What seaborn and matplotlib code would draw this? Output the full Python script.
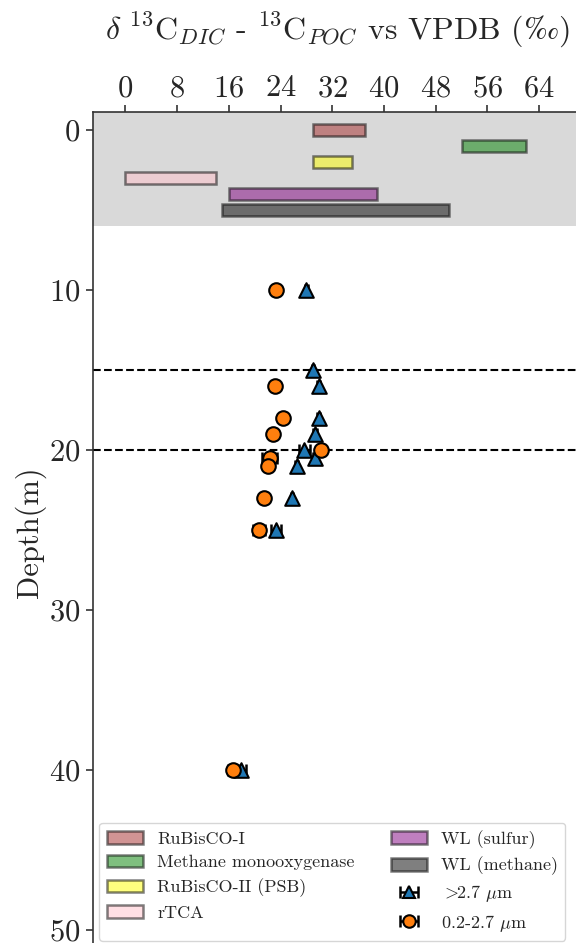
import matplotlib
matplotlib.use("Agg")
import matplotlib.pyplot as plt
from matplotlib.patches import Patch
from matplotlib.lines import Line2D
from matplotlib.container import ErrorbarContainer
from matplotlib.legend_handler import HandlerErrorbar
import seaborn as sns
import pandas as pd

# Pathway ranges of carbon isotope fractionation (permil)
pathways = ["RuBisCO-I", "Methane monooxygenase", "RuBisCO-II (PSB)", "rTCA",
            "WL (sulfur)", "WL (methane)"]
range_lo = [29, 52, 29, 0, 16, 15]
range_hi = [37, 62, 35, 14, 39, 50]
range_row = [0, 1, 2, 3, 4, 5]
range_colors = ["brown", "green", "yellow", "pink", "purple", "black"]

# Measured fractionation by size class
depth_large = [10, 15, 16, 18, 19, 20, 20.5, 21, 23, 25, 40]
frac_large = [28.0, 29.0, 29.9, 29.9, 29.4, 27.7, 29.4, 26.5, 25.8, 23.3, 17.9]
err_large = [0.2, 0.2, 0.2, 0.2, 0.3, 0.9, 0.3, 0.2, 0.2, 0.8, 0.8]

depth_small = [10, 16, 18, 19, 20, 20.5, 21, 23, 25, 40]
frac_small = [23.3, 23.1, 24.4, 22.9, 30.3, 22.3, 22.0, 21.4, 20.7, 16.7]
err_small = [0.2, 0.2, 0.2, 0.2, 0.2, 1.1, 0.3, 0.2, 0.9, 0.8]

boundary_depths = [15, 20]
x_ticks = [0, 8, 16, 24, 32, 40, 48, 56, 64]
y_ticks = [0, 10, 20, 30, 40, 50]

sns.set_style("ticks")
plt.rcParams["font.family"] = ["cmr10", "DejaVu Serif"]
plt.rcParams["mathtext.fontset"] = "cm"
plt.rcParams["axes.formatter.use_mathtext"] = True
plt.rcParams["axes.unicode_minus"] = False

W, H = 576, 943
fig = plt.figure(figsize=(W / 100, H / 100), dpi=100)
ax = fig.add_axes([93 / W, 0.0, 1 - 93 / W, 1 - 112 / H])

ax.axhspan(-2, 6, color="#d9d9d9", zorder=0, lw=0)

handles = []
for name, lo, hi, row, col in zip(pathways, range_lo, range_hi, range_row, range_colors):
    ax.barh(row, hi - lo, left=lo, height=0.8, color=col, alpha=0.5,
            edgecolor="black", linewidth=1.8, zorder=2)
    handles.append(Patch(facecolor=col, alpha=0.5, edgecolor="black",
                         linewidth=1.8, label=name))

for d in boundary_depths:
    ax.axhline(d, color="black", ls="--", lw=1.5, zorder=1)

df_large = pd.DataFrame({"frac": frac_large, "depth": depth_large})
df_small = pd.DataFrame({"frac": frac_small, "depth": depth_small})

eb_l = ax.errorbar(frac_large, depth_large, xerr=err_large, fmt="none",
                   ecolor="black", elinewidth=1.8, capsize=4, capthick=1.8, zorder=3)
eb_s = ax.errorbar(frac_small, depth_small, xerr=err_small, fmt="none",
                   ecolor="black", elinewidth=1.8, capsize=4, capthick=1.8, zorder=3)

sns.scatterplot(data=df_large, x="frac", y="depth", marker="^", s=110,
                color="#1f77b4", edgecolor="black", linewidth=1.5, ax=ax,
                zorder=4, legend=False)
sns.scatterplot(data=df_small, x="frac", y="depth", marker="o", s=110,
                color="#ff7f0e", edgecolor="black", linewidth=1.5, ax=ax,
                zorder=5, legend=False)

mk_l = Line2D([], [], marker="^", ls="none", markersize=9, markerfacecolor="#1f77b4",
              markeredgecolor="black", markeredgewidth=1.5)
mk_s = Line2D([], [], marker="o", ls="none", markersize=9, markerfacecolor="#ff7f0e",
              markeredgecolor="black", markeredgewidth=1.5)

handles.append((eb_l, mk_l))
handles.append((eb_s, mk_s))
labels = pathways + [r"$>\!\!$2.7 $\mu$m", r"0.2-2.7 $\mu$m"]

ax.set_xlim(-5, 69.7)
ax.set_ylim(50.8, -1.125)
ax.set_xticks(x_ticks)
ax.set_yticks(y_ticks)
ax.xaxis.tick_top()
ax.xaxis.set_label_position("top")
ax.tick_params(axis="both", labelsize=22, width=1.2, length=5, direction="out",
               color="#333333")
ax.tick_params(axis="x", pad=2)
ax.tick_params(axis="y", pad=4)

ax.set_xlabel(r"$\delta\ ^{13}\mathrm{C}_{DIC}$ - $^{13}\mathrm{C}_{POC}$ vs VPDB $(\mathrm{‰})$",
              fontsize=23)
ax.xaxis.label.set_va("baseline")
ax.xaxis.set_label_coords(338 / W, 1 - 39 / H, transform=fig.transFigure)

ax.set_ylabel("Depth(m)", fontsize=22)
ax.yaxis.label.set_va("center")
ax.yaxis.label.set_ha("center")
ax.yaxis.set_label_coords(30 / W, 1 - 532 / H, transform=fig.transFigure)

for side in ["right", "bottom"]:
    ax.spines[side].set_visible(False)
for side in ["left", "top"]:
    ax.spines[side].set_linewidth(1.2)
    ax.spines[side].set_color("#333333")

fig.legend(handles, labels, ncol=2, loc="center", bbox_to_anchor=(0.577, 0.065),
           fontsize=13, handlelength=2.0, columnspacing=2.0, labelspacing=0.45,
           frameon=True, edgecolor="#cccccc", fancybox=True,
           handler_map={ErrorbarContainer: HandlerErrorbar(xerr_size=0.5)})

fig.savefig("out.png", dpi=100)
